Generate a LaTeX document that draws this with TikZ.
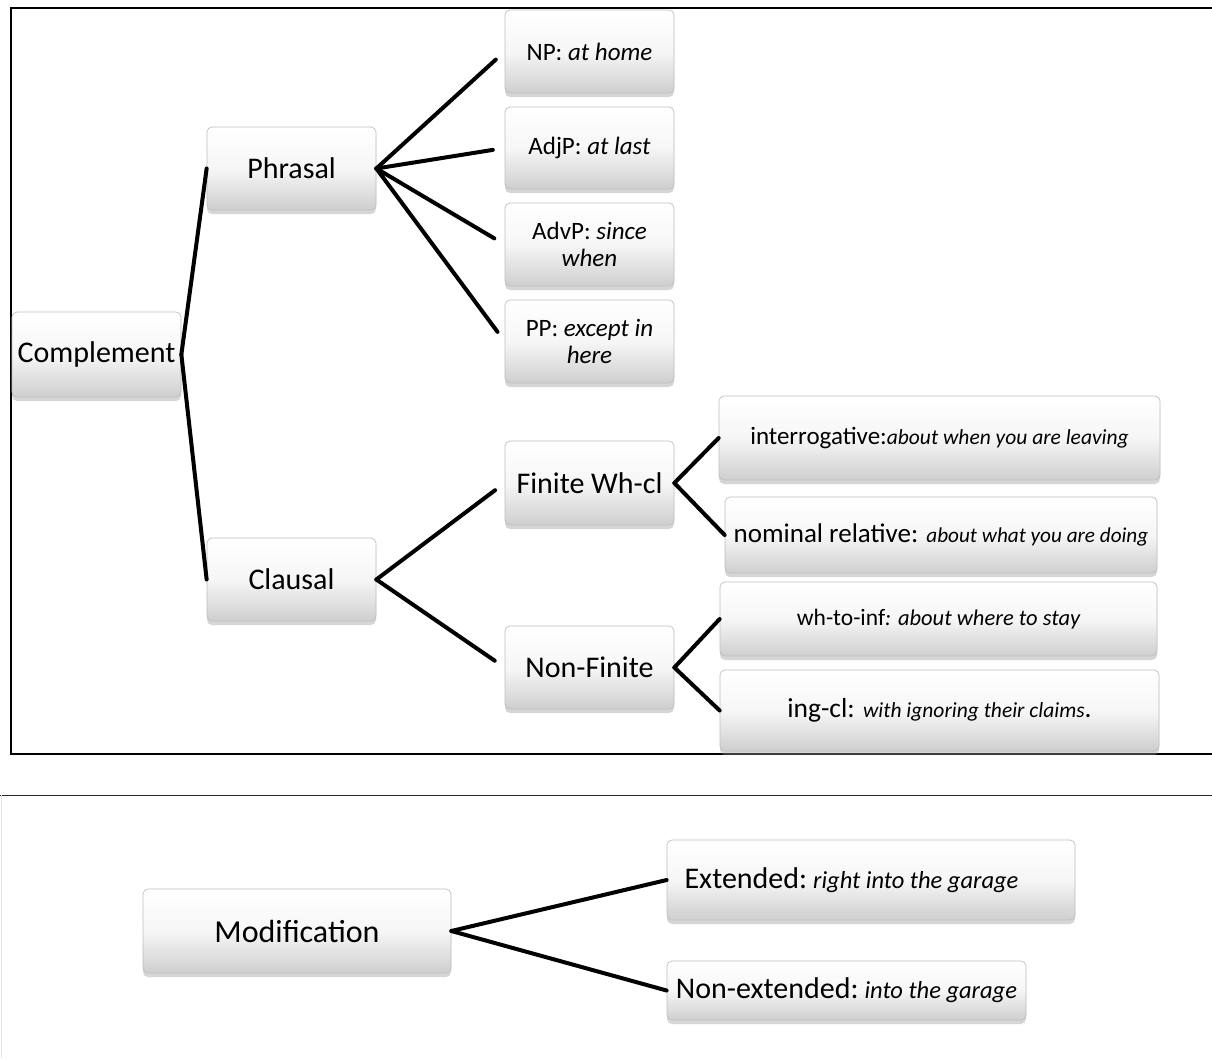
\documentclass[tikz,border=0pt]{standalone}
\usepackage{fontspec}
\setmainfont{Carlito}
\usetikzlibrary{shadows,calc}

\tikzset{
  box/.style={
    rectangle, rounded corners=5pt, draw=gray!50, line width=0.7pt,
    top color=white, bottom color=gray!38, middle color=gray!7,
    drop shadow={shadow xshift=0pt, shadow yshift=-4pt, opacity=0.4, fill=gray!80},
    align=center, inner sep=2pt, text=black
  },
  big/.style={font=\fontsize{30}{33}\selectfont},
  mid/.style={font=\fontsize{25}{27}\selectfont},
  link/.style={line width=4pt, line cap=round},
  gap/.style={link, shorten >=12pt},
  frame/.style={line width=2pt}
}
\newcommand{\smit}[2]{{\fontsize{#1}{#1}\selectfont\itshape #2}}

\begin{document}
\begin{tikzpicture}[x=1pt, y=-1pt]
  \useasboundingbox (0,0) rectangle (1212,1058);
  \fill[white] (0,0) rectangle (1212,1058);

  % frames
  \draw[frame] (1213,8) -- (10.5,8) -- (10.5,753.5) -- (1213,753.5);
  \draw[line width=0.9pt, black!85] (0,795) -- (1212,795);
  \draw[line width=0.6pt, gray!20] (1,795) -- (1,1058);

  % complement tree
  \node[box, big, minimum width=169pt, minimum height=85pt] (comp) at (96.5,354.5) {Complement};
  \node[box, big, minimum width=169pt, minimum height=83pt] (phr) at (291.5,168.5) {Phrasal};
  \node[box, big, minimum width=169pt, minimum height=83pt] (cla) at (291.5,579.5) {Clausal};

  \node[box, mid, minimum width=169pt, minimum height=83pt] (np) at (589.5,51.5) {NP: \textit{at home}};
  \node[box, mid, minimum width=169pt, minimum height=82pt] (adjp) at (589.5,148) {AdjP: \textit{at last}};
  \node[box, mid, minimum width=169pt, minimum height=83pt] (advp) at (589.5,244.5) {AdvP: \textit{since}\\\textit{when}};
  \node[box, mid, minimum width=169pt, minimum height=83pt] (pp) at (589.5,341.5) {PP: \textit{except in}\\\textit{here}};

  \node[box, big, minimum width=169pt, minimum height=84pt] (fin) at (589.5,483) {Finite Wh-cl};
  \node[box, big, minimum width=169pt, minimum height=83pt] (nonfin) at (589.5,667.5) {Non-Finite};

  \node[box, minimum width=441pt, minimum height=84pt] (interr) at (939.5,438)
    {\fontsize{25}{27}\selectfont interrogative:\smit{21.5}{about when you are leaving}};
  \node[box, minimum width=432pt, minimum height=76pt] (nomrel) at (941,535)
    {\fontsize{27}{30}\selectfont nominal relative: \smit{21.2}{about what you are doing}};
  \node[box, minimum width=437pt, minimum height=74pt] (whinf) at (938.5,619)
    {\fontsize{23.5}{27}\selectfont wh-to-inf\smit{22.5}{: about where to stay}};
  \node[box, minimum width=439pt, minimum height=81pt] (ingcl) at (939.5,710.5)
    {\fontsize{27.5}{30}\selectfont ing-cl: \smit{21.5}{with ignoring their claims}.};

  \draw[link] (comp.east) -- (phr.west);
  \draw[link] (comp.east) -- (cla.west);
  \draw[gap] (phr.east) -- (np.west);
  \draw[gap] (phr.east) -- (adjp.west);
  \draw[gap] (phr.east) -- (advp.west);
  \draw[gap] (phr.east) -- (pp.west);
  \draw[gap] (cla.east) -- (fin.west);
  \draw[gap] (cla.east) -- (nonfin.west);
  \draw[link] (fin.east) -- (interr.west);
  \draw[link] (fin.east) -- (nomrel.west);
  \draw[link] (nonfin.east) -- (whinf.west);
  \draw[link] (nonfin.east) -- (ingcl.west);

  % modification tree
  \node[box, font=\fontsize{32}{35}\selectfont, minimum width=308pt, minimum height=84pt] (mod) at (297,931) {Modification};
  \node[box, minimum width=408pt, minimum height=80pt] (ext) at (871,880)
    {\fontsize{30}{33}\selectfont Extended:\hspace{0.2em}\smit{24.5}{right into the garage}\hspace{1.3em}};
  \node[box, minimum width=359pt, minimum height=59pt] (nonext) at (846.5,990.5)
    {\fontsize{30}{33}\selectfont Non-extended:\hspace{0.2em}\smit{24.5}{into the garage}};

  \draw[link] (mod.east) -- (ext.west);
  \draw[link] (mod.east) -- (nonext.west);
\end{tikzpicture}
\end{document}
